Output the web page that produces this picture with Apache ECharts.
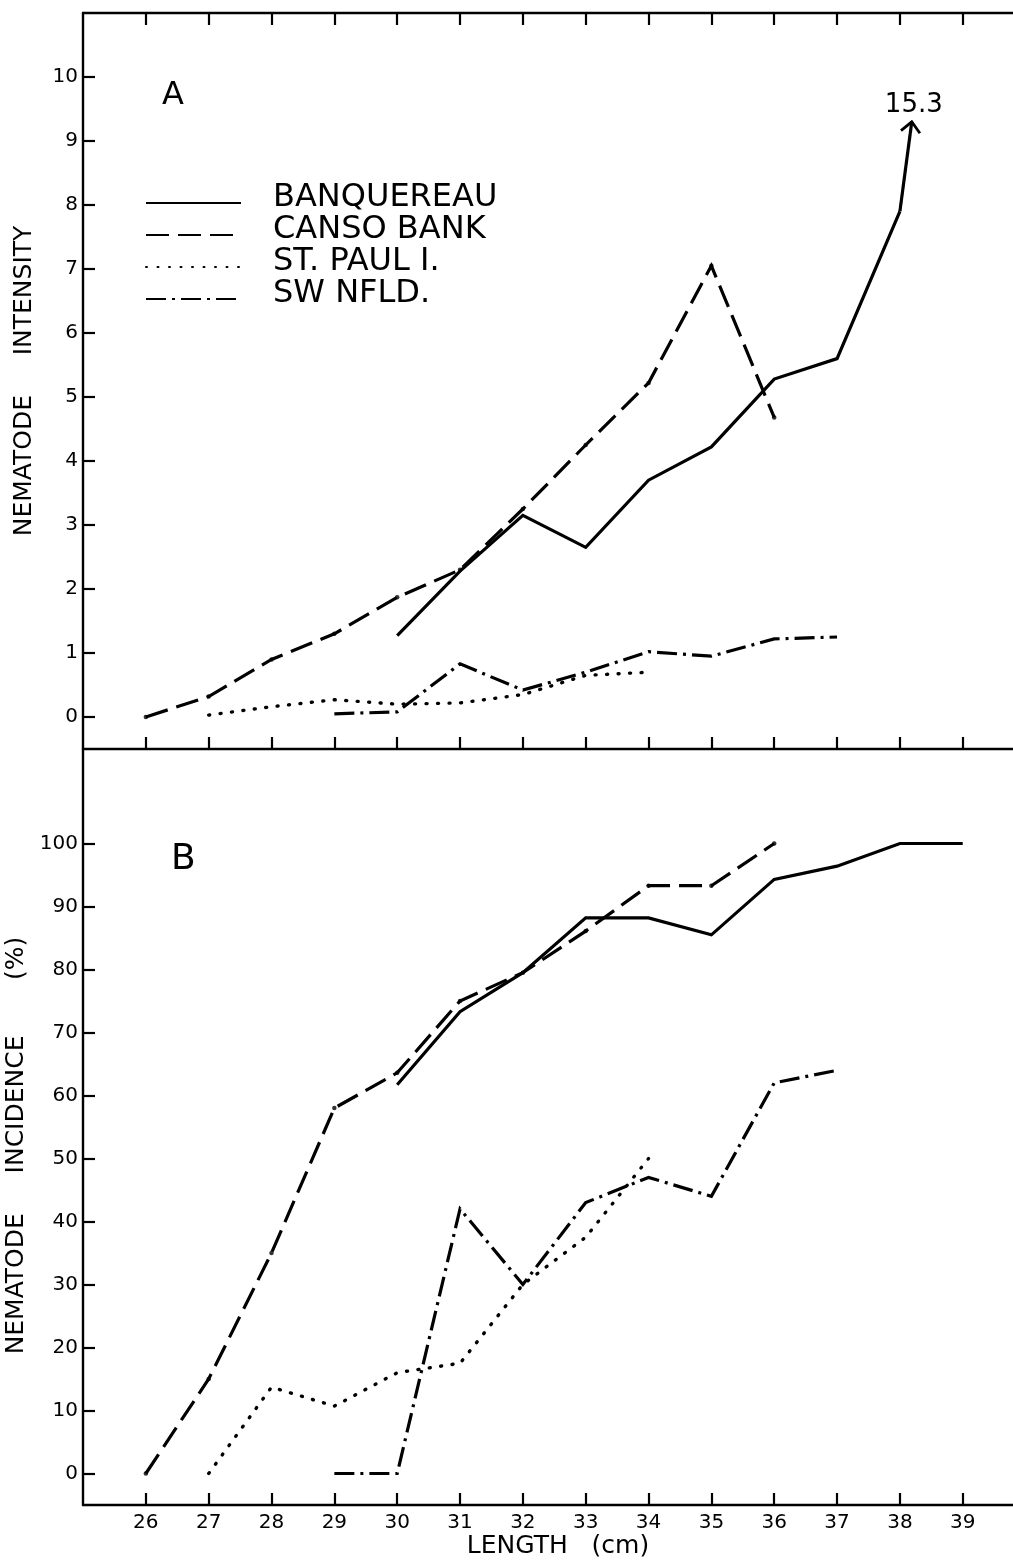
<!DOCTYPE html>
<html>
<head>
<meta charset="utf-8">
<script src="https://cdn.jsdelivr.net/npm/echarts@6/dist/echarts.min.js"></script>
<style>
  html, body { margin: 0; padding: 0; background: #fff; }
  #chart { width: 1013px; height: 1561px; }
</style>
</head>
<body>
<div id="chart"></div>
<script>
// Fish length classes (cm)
const lengths = [26, 27, 28, 29, 30, 31, 32, 33, 34, 35, 36, 37, 38, 39];

// Tick marks on each axis
const lengthTicks = [26, 27, 28, 29, 30, 31, 32, 33, 34, 35, 36, 37, 38, 39];
const intensityTicks = [0, 1, 2, 3, 4, 5, 6, 7, 8, 9, 10];
const incidenceTicks = [0, 10, 20, 30, 40, 50, 60, 70, 80, 90, 100];

// A: nematode intensity by length class
const banquereauIntensity = [null, null, null, null, 1.27, 2.28, 3.15, 2.65, 3.7, 4.22, 5.28, 5.6, 7.9, 15.3];
const cansoIntensity      = [0, 0.32, 0.9, 1.3, 1.87, 2.3, 3.25, 4.25, 5.22, 7.05, 4.68, null, null, null];
const stPaulIntensity     = [null, 0.03, 0.16, 0.27, 0.2, 0.22, 0.35, 0.65, 0.7, null, null, null, null, null];
const swNfldIntensity     = [null, null, null, 0.05, 0.08, 0.83, 0.42, 0.7, 1.02, 0.95, 1.22, 1.25, null, null];

// B: nematode incidence (%) by length class
const banquereauIncidence = [null, null, null, null, 61.7, 73.3, 79.5, 88.2, 88.2, 85.5, 94.3, 96.4, 100, 100];
const cansoIncidence      = [0, 15, 35, 58, 63.6, 75, 79.5, 86.1, 93.3, 93.3, 100, null, null, null];
const stPaulIncidence     = [null, 0, 13.7, 10.7, 16, 17.5, 30, 37.5, 50, null, null, null, null, null];
const swNfldIncidence     = [null, null, null, 0, 0, 42, 30, 43, 47, 44, 62, 64, null, null];

const names = ['BANQUEREAU', 'CANSO BANK', 'ST. PAUL I.', 'SW NFLD.'];

const FONT = '"DejaVu Sans", sans-serif';
const INK = '#000';

// Off-scale Banquereau point: the last segment is cut at this level and ends in an arrow
const ARROW_CUT = 9.3;

function pairs(values) {
  const out = [];
  values.forEach((v, i) => { if (v !== null) out.push([lengths[i], v]); });
  return out;
}

const styles = {
  'BANQUEREAU': { type: 'solid', width: 3.2, cap: 'butt' },
  'CANSO BANK': { type: [23, 9], width: 3.2, cap: 'butt' },
  'ST. PAUL I.': { type: [1, 10.5], width: 3.4, cap: 'round' },
  'SW NFLD.': { type: [20, 6, 3, 6], width: 3.2, cap: 'butt' }
};

function lineSeries(name, values, xi, yi) {
  const s = styles[name];
  return {
    type: 'line', name, xAxisIndex: xi, yAxisIndex: yi,
    data: pairs(values), symbol: 'none', silent: true,
    lineStyle: { color: INK, width: s.width, type: s.type, cap: s.cap, join: 'miter' },
    itemStyle: { color: INK }
  };
}

function dotSeries(name, values, xi, yi) {
  return {
    type: 'scatter', name, xAxisIndex: xi, yAxisIndex: yi,
    data: pairs(values), symbol: 'circle', symbolSize: 4.5, silent: true,
    itemStyle: { color: INK }
  };
}

function xAxis(gridIndex, position, showLabels) {
  return {
    type: 'value', gridIndex, position, min: 25, max: 39.8,
    axisLine: { show: true, onZero: false, lineStyle: { color: INK, width: 2.4 } },
    axisTick: { show: true, inside: true, length: 12, customValues: lengthTicks, lineStyle: { color: INK, width: 2.2 } },
    axisLabel: { show: showLabels, customValues: lengthTicks, margin: 8, color: INK, fontFamily: FONT, fontSize: 20 },
    splitLine: { show: false }
  };
}

function yAxis(gridIndex, min, max, ticks, name, namePadding) {
  return {
    type: 'value', gridIndex, min, max,
    name, nameLocation: 'middle', nameGap: 46, nameRotate: 90,
    nameTextStyle: { color: INK, fontFamily: FONT, fontSize: 25, padding: namePadding },
    axisLine: { show: true, onZero: false, lineStyle: { color: INK, width: 2.4 } },
    axisTick: { show: true, inside: true, length: 12, customValues: ticks, lineStyle: { color: INK, width: 2.2 } },
    axisLabel: { customValues: ticks, margin: 5, color: INK, fontFamily: FONT, fontSize: 20 },
    splitLine: { show: false }
  };
}

const arrowSeries = {
  type: 'custom', name: 'BANQUEREAU', xAxisIndex: 0, yAxisIndex: 0, silent: true, clip: false,
  data: [[lengths[12], banquereauIntensity[12], lengths[13], banquereauIntensity[13]]],
  encode: { x: [0, 2], y: [1, 3] },
  renderItem: (params, api) => {
    const a = api.coord([api.value(0), api.value(1)]);
    const b = api.coord([api.value(2), api.value(3)]);
    const cutY = api.coord([api.value(0), ARROW_CUT])[1];
    const t = (a[1] - cutY) / (a[1] - b[1]);
    const tip = [a[0] + t * (b[0] - a[0]), cutY];
    const ang = Math.atan2(tip[1] - a[1], tip[0] - a[0]);
    const L = 14, spread = 0.75;
    const left = [tip[0] - L * Math.cos(ang - spread), tip[1] - L * Math.sin(ang - spread)];
    const right = [tip[0] - L * Math.cos(ang + spread), tip[1] - L * Math.sin(ang + spread)];
    return {
      type: 'group',
      children: [
        { type: 'line', shape: { x1: a[0], y1: a[1], x2: tip[0], y2: tip[1] }, style: { stroke: INK, lineWidth: 3.2 } },
        { type: 'polyline', shape: { points: [left, tip, right] }, style: { stroke: INK, lineWidth: 2.8, fill: null } },
        { type: 'text', x: tip[0] + 2, y: tip[1] - 17,
          style: { text: String(api.value(3)), font: '26px ' + FONT, fill: INK, align: 'center', verticalAlign: 'middle' } }
      ]
    };
  }
};

const chart = echarts.init(document.getElementById('chart'), null, { renderer: 'canvas' });

chart.setOption({
  animation: false,
  backgroundColor: '#fff',
  textStyle: { fontFamily: FONT, color: INK },
  grid: [
    { left: 83, top: 13, right: 0, height: 736, containLabel: false, outerBoundsMode: 'none' },
    { left: 83, top: 749, right: 0, height: 756, containLabel: false, outerBoundsMode: 'none' }
  ],
  xAxis: [
    xAxis(0, 'bottom', false),
    xAxis(0, 'top', false),
    Object.assign(xAxis(1, 'bottom', true), {
      name: 'LENGTH   (cm)', nameLocation: 'middle', nameGap: 29,
      nameTextStyle: { color: INK, fontFamily: FONT, fontSize: 25, padding: [0, 0, 0, 20] }
    })
  ],
  yAxis: [
    yAxis(0, -0.5, 11, intensityTicks, 'NEMATODE     INTENSITY', [0, 0, 0, 0]),
    yAxis(1, -5, 115, incidenceTicks, 'NEMATODE     INCIDENCE       (%)', [0, 37, 0, 0])
  ],
  legend: {
    data: names, orient: 'vertical', left: 145, top: 182, padding: 0,
    itemWidth: 95, itemHeight: 14, itemGap: -10, selectedMode: false,
    itemStyle: { opacity: 0 },
    lineStyle: { color: INK },
    formatter: name => '{t|' + name + '}',
    textStyle: {
      color: INK, fontFamily: FONT, fontSize: 32,
      rich: { t: { color: INK, fontFamily: FONT, fontSize: 32, lineHeight: 22, padding: [0, 0, 10, 27] } }
    }
  },
  graphic: [
    { type: 'text', left: 162, top: 80, style: { text: 'A', font: '32px ' + FONT, fill: INK } },
    { type: 'text', left: 171, top: 842, style: { text: 'B', font: '36px ' + FONT, fill: INK } }
  ],
  series: [
    lineSeries('BANQUEREAU', banquereauIntensity.slice(0, 13), 0, 0),
    lineSeries('CANSO BANK', cansoIntensity, 0, 0),
    lineSeries('ST. PAUL I.', stPaulIntensity, 0, 0),
    lineSeries('SW NFLD.', swNfldIntensity, 0, 0),
    dotSeries('CANSO BANK', cansoIntensity, 0, 0),
    arrowSeries,
    lineSeries('BANQUEREAU', banquereauIncidence, 2, 1),
    lineSeries('CANSO BANK', cansoIncidence, 2, 1),
    lineSeries('ST. PAUL I.', stPaulIncidence, 2, 1),
    lineSeries('SW NFLD.', swNfldIncidence, 2, 1),
    dotSeries('CANSO BANK', cansoIncidence, 2, 1)
  ]
});
</script>
</body>
</html>
